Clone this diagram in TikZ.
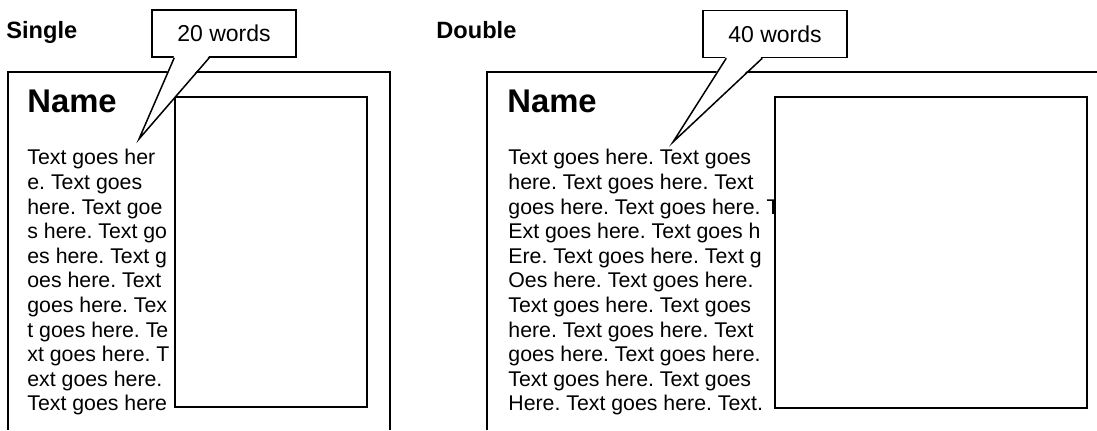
\documentclass[tikz,border=0pt]{standalone}
\usepackage{fontspec}
\setmainfont{Liberation Sans}
\frenchspacing

\begin{document}
\begin{tikzpicture}[x=0.5pt, y=-0.5pt,
    frame/.style={line width=1pt},
    photo/.style={line width=1pt, fill=white},
    bubble/.style={line width=0.75pt, draw, fill=white, minimum width=72pt, minimum height=23.5pt, inner sep=0pt, font=\fontsize{11.5}{13}\selectfont},
    body/.style={anchor=north west, inner sep=0pt, align=left, font=\fontsize{10.65}{12.3}\selectfont},
    title/.style={anchor=base west, inner sep=0pt, font=\fontsize{11.8}{14}\selectfont\bfseries},
    heading/.style={anchor=base west, inner sep=0pt, font=\fontsize{16.4}{19}\selectfont\bfseries}]
    \useasboundingbox (0, 0) rectangle (1097, 430);

    % 枠を描く
    \draw[frame] (8, 430) -- (8, 72) -- (390, 72) -- (390, 430);
    \draw[frame] (487, 430) -- (487, 72) -- (1097, 72);

    % 見出し
    \node[title] (single) at (6, 38) {Single};
    \node[title] (double) at (436, 38) {Double};
    \node[heading] (name1) at (27, 112) {Name};
    \node[heading] (name2) at (507, 112) {Name};

    % 本文
    \node[body] (text1) at (27, 149) {Text goes her\\e. Text goes\\here. Text goe\\s here. Text go\\es here. Text g\\oes here. Text\\goes here. Tex\\t goes here. Te\\xt goes here. T\\ext goes here.\\Text goes here};
    \node[body] (text2) at (508, 149) {Text goes here. Text goes\\here. Text goes here. Text\\goes here. Text goes here. T\\Ext goes here. Text goes h\\Ere. Text goes here. Text g\\Oes here. Text goes here.\\Text goes here. Text goes\\here. Text goes here. Text\\goes here. Text goes here.\\Text goes here. Text goes\\Here. Text goes here. Text.};

    % 写真の枠
    \draw[photo] (175, 97) rectangle (367, 407);
    \draw[photo] (775, 97) rectangle (1087, 408);

    % 吹き出し
    \node[bubble] (c20) at (224, 33.5) {20 words};
    \coordinate (tip20) at (139, 139);
    \fill[white] ([xshift=11.5pt, yshift=1pt]c20.south west) -- (tip20) -- ([xshift=29pt, yshift=1pt]c20.south west) -- cycle;
    \draw[line width=0.75pt] ([xshift=11.5pt]c20.south west) -- (tip20) -- ([xshift=29pt]c20.south west);

    \node[bubble] (c40) at (775, 34) {40 words};
    \coordinate (tip40) at (673, 142);
    \fill[white] ([xshift=12pt, yshift=1pt]c40.south west) -- (tip40) -- ([xshift=30pt, yshift=1pt]c40.south west) -- cycle;
    \draw[line width=0.75pt] ([xshift=12pt]c40.south west) -- (tip40) -- ([xshift=30pt]c40.south west);

\end{tikzpicture}
\end{document}
